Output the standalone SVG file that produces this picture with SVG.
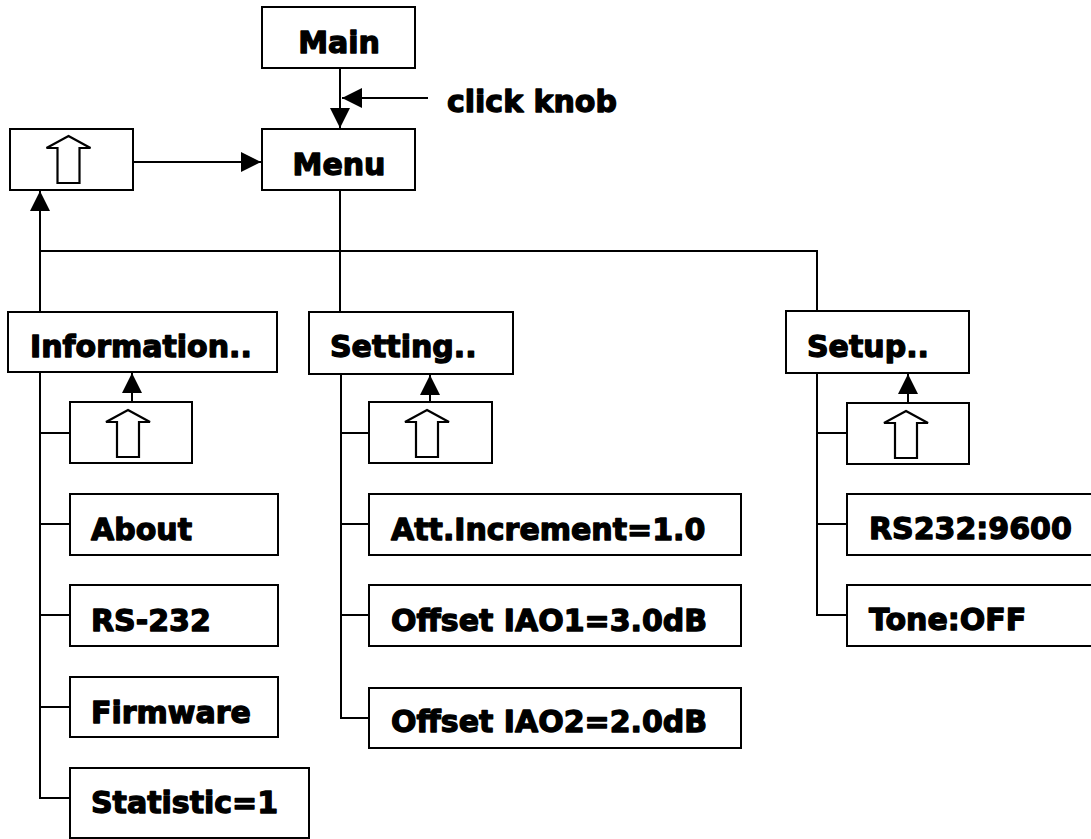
<svg xmlns="http://www.w3.org/2000/svg" xmlns:xlink="http://www.w3.org/1999/xlink" width="1091" height="839" viewBox="0 0 1091 839">
<style>
.box{fill:#fff;stroke:#000;stroke-width:2}
.t{font-family:"DejaVu Sans","Liberation Sans",sans-serif;font-weight:bold;font-size:30px;fill:#000;stroke:#000;stroke-width:1.3;stroke-linejoin:round}
.c{text-anchor:middle}
.ln{fill:none;stroke:#000;stroke-width:2}
.arr{marker-end:url(#ah)}
.sym{fill:#fff;stroke:#000;stroke-width:2.2;stroke-linejoin:miter}
</style>
<defs>
<marker id="ah" markerUnits="userSpaceOnUse" markerWidth="20" markerHeight="20" refX="20" refY="10" orient="auto">
<path d="M0,0 L20,10 L0,20 Z" fill="#000"/>
</marker>
<path id="up" class="sym" d="M0,0 L22,12 L11,12 L11,47 L-11,47 L-11,12 L-22,12 Z"/>
</defs>
<rect width="1091" height="839" fill="#fff"/>
<g id="connectors">
<path class="ln arr" d="M340,68 V128"/>
<path class="ln arr" d="M428,98 H342"/>
<path class="ln arr" d="M133,162 H261"/>
<path class="ln arr" d="M40,312 V191"/>
<path class="ln" d="M40,251 H817 V311"/>
<path class="ln" d="M340,190 V312"/>
<path class="ln" d="M40,372 V798 H70 M40,433 H70 M40,524 H70 M40,615 H70 M40,707 H70"/>
<path class="ln arr" d="M132,402 V373"/>
<path class="ln" d="M341,374 V718 H369 M341,433 H369 M341,524 H369 M341,615 H369"/>
<path class="ln arr" d="M430,402 V375"/>
<path class="ln" d="M817,373 V615 H847 M817,433 H847 M817,524 H847"/>
<path class="ln arr" d="M908,403 V374"/>
</g>
<text class="t" x="447" y="112">click knob</text>
<g id="main"><rect class="box" x="262" y="7" width="153" height="61"/><text class="t c" x="339" y="53">Main</text></g>
<g id="menu"><rect class="box" x="262" y="129" width="153" height="61"/><text class="t c" x="339" y="175">Menu</text></g>
<g id="menu-up"><rect class="box" x="10" y="129" width="123" height="61"/><use xlink:href="#up" x="68.5" y="136"/></g>
<g id="information"><rect class="box" x="8" y="312" width="269" height="60"/><text class="t" x="30" y="357">Information..</text></g>
<g id="setting"><rect class="box" x="309" y="312" width="204" height="62"/><text class="t" x="330" y="357">Setting..</text></g>
<g id="setup"><rect class="box" x="786" y="311" width="183" height="62"/><text class="t" x="807" y="357">Setup..</text></g>
<g id="info-up"><rect class="box" x="70" y="402" width="122" height="61"/><use xlink:href="#up" x="128" y="410"/></g>
<g id="about"><rect class="box" x="70" y="494" width="208" height="61"/><text class="t" x="91" y="540">About</text></g>
<g id="rs-232"><rect class="box" x="70" y="585" width="208" height="61"/><text class="t" x="91" y="631">RS-232</text></g>
<g id="firmware"><rect class="box" x="70" y="677" width="208" height="60"/><text class="t" x="91" y="723">Firmware</text></g>
<g id="statistic"><rect class="box" x="70" y="768" width="239" height="70"/><text class="t" x="91" y="813">Statistic=1</text></g>
<g id="setting-up"><rect class="box" x="369" y="402" width="123" height="61"/><use xlink:href="#up" x="427" y="410"/></g>
<g id="att"><rect class="box" x="369" y="494" width="372" height="61"/><text class="t" x="391" y="540">Att.Increment=1.0</text></g>
<g id="offset1"><rect class="box" x="369" y="585" width="372" height="61"/><text class="t" x="391" y="631">Offset IAO1=3.0dB</text></g>
<g id="offset2"><rect class="box" x="369" y="688" width="372" height="60"/><text class="t" x="391" y="732">Offset IAO2=2.0dB</text></g>
<g id="setup-up"><rect class="box" x="847" y="403" width="122" height="61"/><use xlink:href="#up" x="906" y="411"/></g>
<g id="rs232-9600"><rect class="box" x="847" y="494" width="250" height="61"/><text class="t" x="869" y="539">RS232:9600</text></g>
<g id="tone"><rect class="box" x="847" y="585" width="250" height="61"/><text class="t" x="869" y="630">Tone:OFF</text></g>
</svg>
